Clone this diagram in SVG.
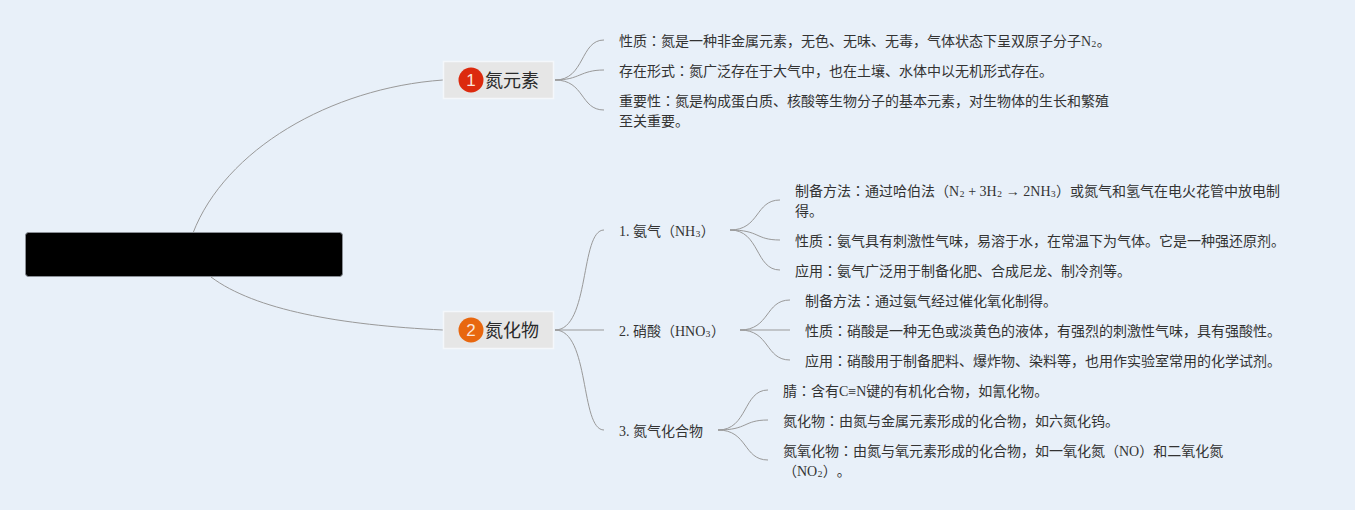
<svg xmlns="http://www.w3.org/2000/svg" width="1355" height="510" viewBox="0 0 1355 510">
<style>
text{font-family:"Liberation Serif","Noto Sans CJK SC",serif;font-size:14px;fill:#333;text-spacing-trim:space-all}
.t{font-family:"Noto Sans CJK SC","Liberation Sans",sans-serif;font-size:18px;fill:#2a2a2a}
.n{font-family:"Liberation Sans",sans-serif;font-size:17px;fill:#fbe6dc;text-anchor:middle}
.c{font-family:"Noto Sans CJK TC",sans-serif}
.s{font-size:16px;baseline-shift:2px}
.box{fill:#e6e6e6;stroke:#f4f7fb;stroke-width:1.500}
#connectors path{fill:none;stroke:#999;stroke-width:1}
</style>
<rect width="1355" height="510" fill="#e8f0f9"/>
<g id="connectors">
<path d="M193 233C225 150 330 88 443 80"/>
<path d="M211 277C255 310 340 325 443 330"/>
<path d="M555 80C585 80 580 40 604 40"/>
<path d="M555 80C580 80 580 70 604 70"/>
<path d="M555 80C585 80 580 110 604 110"/>
<path d="M555 330C590 330 580 230 604 230"/>
<path d="M555 330H604"/>
<path d="M555 330C590 330 580 430 604 430"/>
<path d="M730 230C760 230 755 200 780 200"/>
<path d="M730 230C760 230 755 240 780 240"/>
<path d="M730 230C760 230 755 270 780 270"/>
<path d="M740 330C770 330 765 300 790 300"/>
<path d="M740 330H790"/>
<path d="M740 330C770 330 765 360 790 360"/>
<path d="M718 430C748 430 743 390 768 390"/>
<path d="M718 430C748 430 743 420 768 420"/>
<path d="M718 430C748 430 743 460 768 460"/>
</g>
<g id="root"><rect x="25.500" y="232.500" width="317" height="44" rx="3" fill="#000" stroke="#8a8f96"/></g>
<g id="topic1"><rect class="box" x="443.500" y="61.500" width="110" height="37"/><circle cx="471" cy="80" r="12.500" fill="#dc2a0e"/><text class="n" x="471" y="86">1</text><text class="t" x="485" y="87">氮元素</text></g>
<g id="topic2"><rect class="box" x="443.500" y="311.500" width="110" height="37"/><circle cx="471" cy="330" r="12.500" fill="#e8670f"/><text class="n" x="471" y="336">2</text><text class="t" x="485" y="337">氮化物</text></g>
<g id="n1"><text x="619" y="46">性质<tspan class="c">：</tspan>氮是一种非金属元素，无色、无味、无毒，气体状态下呈双原子分子N<tspan class="s">₂</tspan>。</text></g>
<g id="n2"><text x="619" y="76">存在形式<tspan class="c">：</tspan>氮广泛存在于大气中，也在土壤、水体中以无机形式存在。</text></g>
<g id="n3"><text x="619" y="106">重要性<tspan class="c">：</tspan>氮是构成蛋白质、核酸等生物分子的基本元素，对生物体的生长和繁殖</text><text x="619" y="126">至关重要。</text></g>
<g id="s1"><text x="619" y="236">1. 氨气（NH<tspan class="s">₃</tspan>）</text></g>
<g id="s2"><text x="619" y="336">2. 硝酸（HNO<tspan class="s">₃</tspan>）</text></g>
<g id="s3"><text x="619" y="436">3. 氮气化合物</text></g>
<g id="a1"><text x="795" y="196">制备方法<tspan class="c">：</tspan>通过哈伯法（N<tspan class="s">₂</tspan> + 3H<tspan class="s">₂</tspan> → 2NH<tspan class="s">₃</tspan>）或氮气和氢气在电火花管中放电制</text><text x="795" y="216">得。</text></g>
<g id="a2"><text x="795" y="246">性质<tspan class="c">：</tspan>氨气具有刺激性气味，易溶于水，在常温下为气体。它是一种强还原剂。</text></g>
<g id="a3"><text x="795" y="276">应用<tspan class="c">：</tspan>氨气广泛用于制备化肥、合成尼龙、制冷剂等。</text></g>
<g id="b1"><text x="805" y="306">制备方法<tspan class="c">：</tspan>通过氨气经过催化氧化制得。</text></g>
<g id="b2"><text x="805" y="336">性质<tspan class="c">：</tspan>硝酸是一种无色或淡黄色的液体，有强烈的刺激性气味，具有强酸性。</text></g>
<g id="b3"><text x="805" y="366">应用<tspan class="c">：</tspan>硝酸用于制备肥料、爆炸物、染料等，也用作实验室常用的化学试剂。</text></g>
<g id="c1"><text x="783" y="396">腈<tspan class="c">：</tspan>含有C≡N键的有机化合物，如氰化物。</text></g>
<g id="c2"><text x="783" y="426">氮化物<tspan class="c">：</tspan>由氮与金属元素形成的化合物，如六氮化钨。</text></g>
<g id="c3"><text x="783" y="456">氮氧化物<tspan class="c">：</tspan>由氮与氧元素形成的化合物，如一氧化氮（NO）和二氧化氮</text><text x="783" y="476">（NO<tspan class="s">₂</tspan>）。</text></g>
</svg>
